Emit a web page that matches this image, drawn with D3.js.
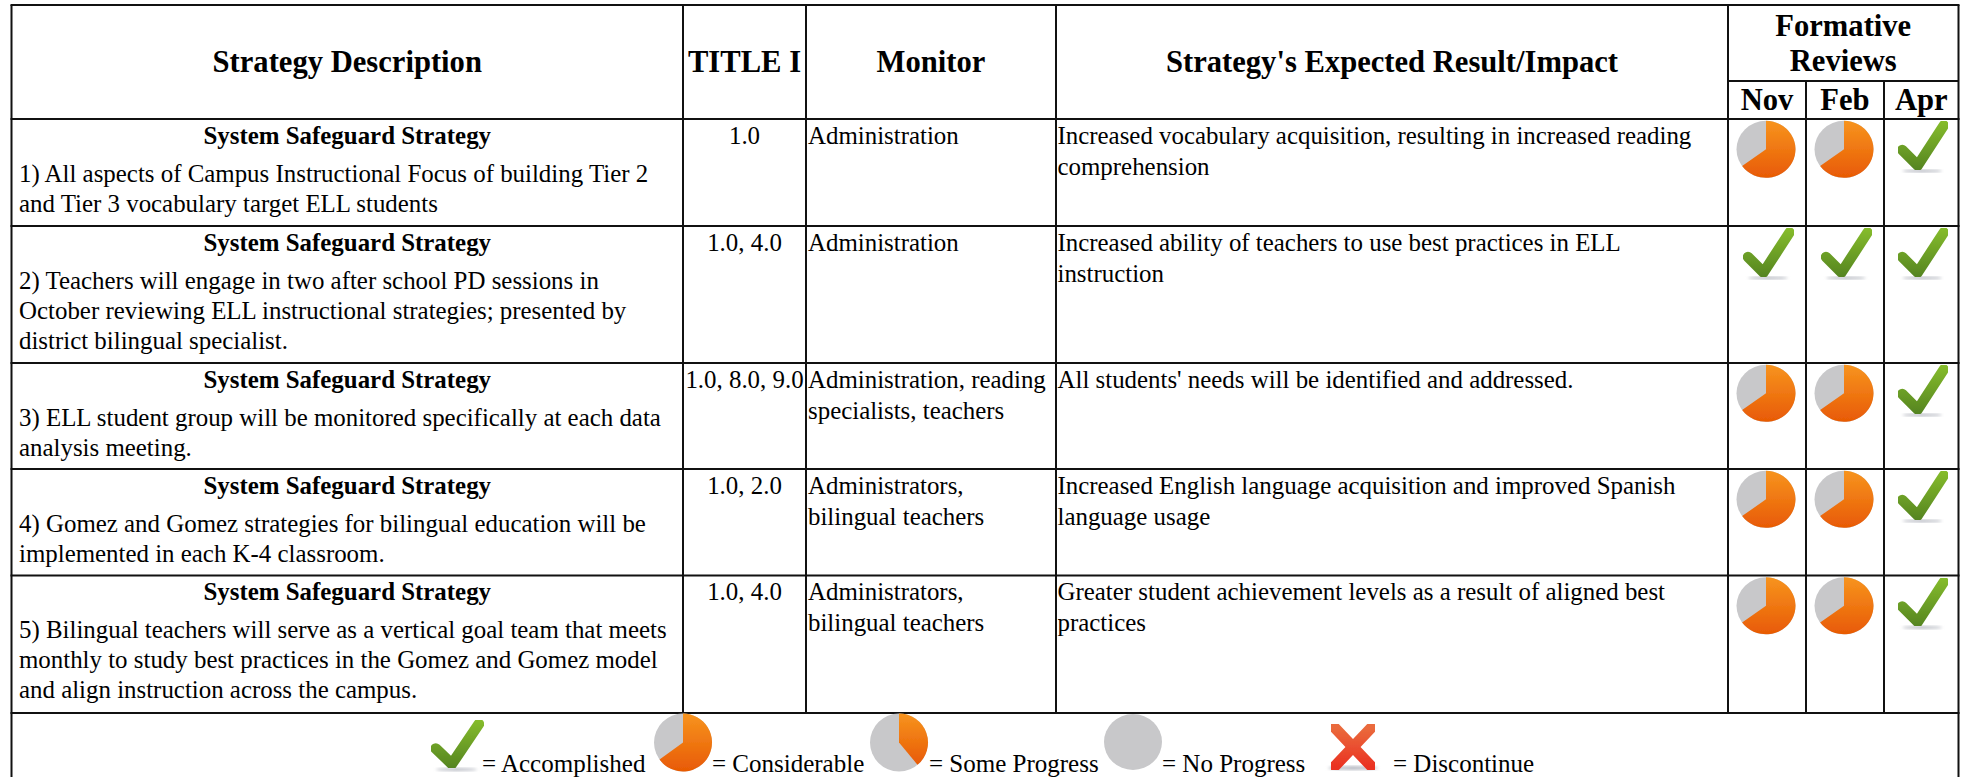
<!DOCTYPE html>
<html>
<head>
<meta charset="utf-8">
<script src="https://cdn.jsdelivr.net/npm/d3@7"></script>
<style>
  html, body { margin: 0; background: #fff; overflow: hidden; }
  svg { display: block; }
  text { font-family: "Liberation Serif", serif; fill: #000; }
</style>
</head>
<body>
<svg id="chart" width="1961" height="777"></svg>
<script>
const columns = ['description', 'title', 'monitor', 'impact', 'nov', 'feb', 'apr'];
const headers = ['Strategy Description', 'TITLE I', 'Monitor', "Strategy's Expected Result/Impact"];
const months = ['Nov', 'Feb', 'Apr'];
const strategyHeading = 'System Safeguard Strategy';

const descriptions = [
  ['1) All aspects of Campus Instructional Focus of building Tier 2', 'and Tier 3 vocabulary target ELL students'],
  ['2) Teachers will engage in two after school PD sessions in', 'October reviewing ELL instructional strategies; presented by', 'district bilingual specialist.'],
  ['3) ELL student group will be monitored specifically at each data', 'analysis meeting.'],
  ['4) Gomez and Gomez strategies for bilingual education will be', 'implemented in each K-4 classroom.'],
  ['5) Bilingual teachers will serve as a vertical goal team that meets', 'monthly to study best practices in the Gomez and Gomez model', 'and align instruction across the campus.']
];
const titles = ['1.0', '1.0, 4.0', '1.0, 8.0, 9.0', '1.0, 2.0', '1.0, 4.0'];
const monitors = [
  ['Administration'],
  ['Administration'],
  ['Administration, reading', 'specialists, teachers'],
  ['Administrators,', 'bilingual teachers'],
  ['Administrators,', 'bilingual teachers']
];
const impacts = [
  ['Increased vocabulary acquisition, resulting in increased reading', 'comprehension'],
  ['Increased ability of teachers to use best practices in ELL', 'instruction'],
  ["All students' needs will be identified and addressed."],
  ['Increased English language acquisition and improved Spanish', 'language usage'],
  ['Greater student achievement levels as a result of aligned best', 'practices']
];
const novStatus = ['considerable', 'done', 'considerable', 'considerable', 'considerable'];
const febStatus = ['considerable', 'done', 'considerable', 'considerable', 'considerable'];
const aprStatus = ['done', 'done', 'done', 'done', 'done'];

const legendLabels = ['= Accomplished', '= Considerable', '= Some Progress', '= No Progress', '= Discontinue'];
const legendIcons = ['done', 'considerable', 'some', 'none', 'discontinue'];
const pieShare = { considerable: 0.65, some: 0.39, none: 0 };

const colEdges = [11.5, 683, 806, 1056, 1728, 1806, 1884, 1958.5];
const rowEdges = [5, 119, 226, 363, 469, 575.5, 713, 777];
const rowKeys = ['head', 0, 1, 2, 3, 4, 'legend', 'end'];
const font = 24.9;
const headSize = 30.6;
const lineH = 30;

const x = d3.scaleOrdinal([...columns, 'end'], colEdges);
const y = d3.scaleOrdinal(rowKeys, rowEdges);
const colMid = c => (x(c) + colEdges[columns.indexOf(c) + 1]) / 2;
const left = colEdges[0], right = x('end');

const svg = d3.select('#chart');
const defs = svg.append('defs');

function vGrad(id, c1, c2) {
  const g = defs.append('linearGradient').attr('id', id).attr('x1', 0).attr('y1', 0).attr('x2', 0).attr('y2', 1);
  g.append('stop').attr('offset', 0).attr('stop-color', c1);
  g.append('stop').attr('offset', 1).attr('stop-color', c2);
}
vGrad('orange', '#f7941e', '#e85a05');
defs.append('linearGradient').attr('id', 'green').attr('gradientUnits', 'userSpaceOnUse')
  .attr('x1', 0).attr('y1', -26).attr('x2', 0).attr('y2', 24)
  .selectAll('stop').data([[0, '#86bd2c'], [1, '#548321']]).enter().append('stop')
  .attr('offset', d => d[0]).attr('stop-color', d => d[1]);
vGrad('red', '#ea6a3c', '#ea3323');
defs.append('filter').attr('id', 'soft').append('feGaussianBlur').attr('stdDeviation', 0.6);
defs.append('filter').attr('id', 'shadow').append('feGaussianBlur').attr('stdDeviation', 1.5);

const grid = svg.append('g').attr('stroke', '#111').attr('stroke-width', 2);
function hline(y0, x0, x1) { grid.append('line').attr('x1', x0).attr('x2', x1).attr('y1', y0).attr('y2', y0); }
function vline(x0, y0, y1) { grid.append('line').attr('x1', x0).attr('x2', x0).attr('y1', y0).attr('y2', y1); }

rowEdges.slice(0, 7).forEach(r => hline(r, left - 1, right + 1));
hline(81, x('nov'), right);
vline(left, 5, 777);
vline(right, 5, 777);
['title', 'monitor', 'impact', 'nov'].forEach(c => vline(x(c), 5, y('legend')));
['feb', 'apr'].forEach(c => vline(x(c), 81, y('legend')));

function label(str, px, py, opts = {}) {
  return svg.append('text')
    .attr('x', px).attr('y', py)
    .attr('text-anchor', opts.anchor || 'start')
    .attr('font-weight', opts.bold ? 'bold' : 'normal')
    .attr('font-size', opts.size || font)
    .text(str);
}

// header
headers.forEach((h, i) => label(h, colMid(columns[i]), 72, { anchor: 'middle', bold: true, size: headSize }));
label('Formative', (x('nov') + right) / 2, 36, { anchor: 'middle', bold: true, size: headSize });
label('Reviews', (x('nov') + right) / 2, 71, { anchor: 'middle', bold: true, size: headSize });
months.forEach((m, i) => label(m, colMid(columns[4 + i]), 110, { anchor: 'middle', bold: true, size: headSize }));

// body rows
const arcGen = d3.arc();
const checkLine = d3.line().curve(d3.curveLinear);

function drawPie(cx, cy, rx, ry, share) {
  const g = svg.append('g').attr('transform', `translate(${cx},${cy}) scale(${rx / 29},${ry / 29})`).attr('filter', 'url(#soft)');
  g.append('circle').attr('r', 29).attr('fill', '#c8c8ca');
  if (share > 0) {
    g.append('path')
      .attr('d', arcGen({ innerRadius: 0, outerRadius: 29, startAngle: 0, endAngle: share * 2 * Math.PI }))
      .attr('fill', 'url(#orange)');
  }
}

function drawCheck(cx, cy, w, h) {
  const g = svg.append('g').attr('transform', `translate(${cx},${cy}) scale(${w / 52},${h / 52})`);
  g.append('ellipse').attr('cx', 0).attr('cy', 24).attr('rx', 20).attr('ry', 1.5).attr('fill', '#b9bcc4').attr('filter', 'url(#shadow)');
  g.append('path')
    .attr('d', checkLine([[-20, 3], [-4.5, 18.5], [21.5, -21.5]]))
    .attr('fill', 'none')
    .attr('stroke', 'url(#green)')
    .attr('stroke-width', 10.5)
    .attr('stroke-linecap', 'round')
    .attr('stroke-linejoin', 'round')
    .attr('filter', 'url(#soft)');
}

function drawCross(cx, cy, w, h) {
  const g = svg.append('g').attr('transform', `translate(${cx},${cy}) scale(${w / 50},${h / 48})`);
  g.append('ellipse').attr('cx', 0).attr('cy', 22).attr('rx', 25).attr('ry', 2).attr('fill', '#b9bcc4').attr('filter', 'url(#shadow)');
  g.append('g').attr('stroke', 'url(#red)').attr('stroke-width', 11).attr('stroke-linecap', 'round').attr('filter', 'url(#soft)')
    .selectAll('line').data([[-18, -18, 18, 20], [18, -18, -18, 20]]).enter().append('line')
    .attr('x1', d => d[0]).attr('y1', d => d[1]).attr('x2', d => d[2] + 0.01).attr('y2', d => d[3]);
}

function statusIcon(kind, col, top) {
  const cx = colMid(col);
  if (kind === 'done') drawCheck(cx + 1, top + 28, 52, 52);
  else drawPie(cx - 1, top + 30.3, 29.5, 28.5, pieShare[kind]);
}

descriptions.forEach((lines, i) => {
  const top = y(i);
  label(strategyHeading, colMid('description'), top + 24.5, { anchor: 'middle', bold: true });
  lines.forEach((l, j) => label(l, 19, top + 62.5 + j * lineH));
  label(titles[i], colMid('title'), top + 24.5, { anchor: 'middle' });
  monitors[i].forEach((l, j) => label(l, x('monitor') + 2, top + 24.5 + j * (lineH + 1)));
  impacts[i].forEach((l, j) => label(l, x('impact') + 1.5, top + 24.5 + j * (lineH + 1)));
  statusIcon(novStatus[i], 'nov', top);
  statusIcon(febStatus[i], 'feb', top);
  statusIcon(aprStatus[i], 'apr', top);
});

// legend
const legendIconX = [456.5, 683, 899, 1133, 1353];
const legendTextX = [482, 712, 929, 1162, 1393];
legendIcons.forEach((k, i) => {
  if (k === 'done') drawCheck(legendIconX[i], 745.5, 54, 52);
  else if (k === 'discontinue') drawCross(legendIconX[i], 746, 50, 48);
  else if (k === 'none') drawPie(legendIconX[i], 742, 29, 28, 0);
  else drawPie(legendIconX[i], 742.5, 29, 29, pieShare[k]);
  label(legendLabels[i], legendTextX[i], 772, { size: 25 });
});
</script>
</body>
</html>
